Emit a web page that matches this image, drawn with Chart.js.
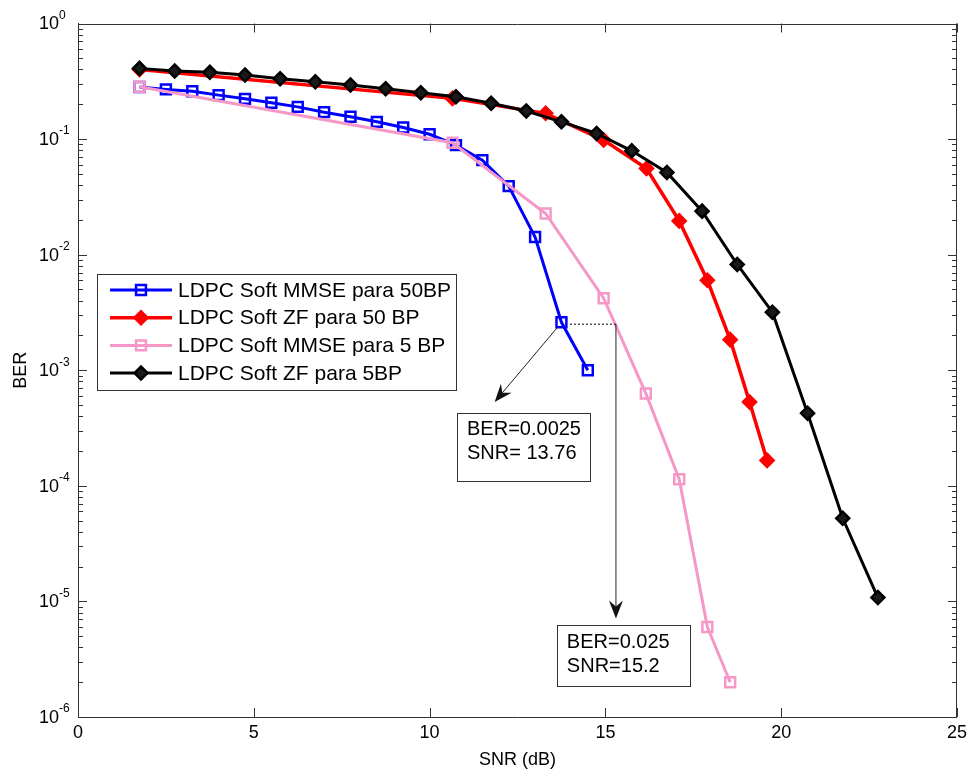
<!DOCTYPE html>
<html>
<head>
<meta charset="utf-8">
<script src="https://cdn.jsdelivr.net/npm/chart.js@4.4.0/dist/chart.umd.min.js"></script>
<style>
    html, body { margin: 0; padding: 0; background: #fff; }
    #wrap { width: 972px; height: 774px; }
</style>
</head>
<body>
<div id="wrap"><canvas id="ber-chart" width="972" height="774"></canvas></div>
<script>
// series: SNR (dB) and BER
const snrMmse50 = [1.75, 2.5, 3.25, 4, 4.75, 5.5, 6.25, 7, 7.75, 8.5, 9.25, 10, 10.75, 11.5, 12.25, 13, 13.75, 14.5];
const berMmse50 = [0.282, 0.269, 0.259, 0.240, 0.223, 0.206, 0.190, 0.171, 0.156, 0.141, 0.126, 0.110, 0.0887, 0.0658, 0.0392, 0.0142, 0.0026, 0.001];

const snrZf50 = [1.75, 10.65, 13.3, 14.95, 16.17, 17.1, 17.9, 18.55, 19.1, 19.6];
const berZf50 = [0.40, 0.225, 0.167, 0.098, 0.0557, 0.0196, 0.0060, 0.00184, 0.000532, 0.000166];

const snrMmse5 = [1.75, 10.65, 13.3, 14.95, 16.15, 17.1, 17.9, 18.55];
const berMmse5 = [0.284, 0.093, 0.0227, 0.0042, 0.00063, 0.000114, 0.0000060, 0.0000020];

const snrZf5 = [1.75, 2.75, 3.75, 4.75, 5.75, 6.75, 7.75, 8.75, 9.75, 10.75, 11.75, 12.75, 13.75, 14.75, 15.75, 16.75, 17.75, 18.75, 19.75, 20.75, 21.75, 22.75];
const berZf5 = [0.409, 0.388, 0.378, 0.358, 0.333, 0.313, 0.294, 0.273, 0.252, 0.232, 0.204, 0.175, 0.141, 0.112, 0.0792, 0.0515, 0.0238, 0.00822, 0.00318, 0.000425, 0.0000524, 0.0000108];

const seriesNames = ['LDPC Soft MMSE para 50BP', 'LDPC Soft ZF para 50 BP', 'LDPC Soft MMSE para 5 BP', 'LDPC Soft ZF para 5BP'];
const berDecades = [1e-6, 1e-5, 1e-4, 1e-3, 1e-2, 1e-1, 1];

// annotations (data coordinates)
const noteTexts = [['BER=0.0025', 'SNR= 13.76'], ['BER=0.025', 'SNR=15.2']];
const noteLeftSNR = [10.78, 13.62];
const noteRightSNR = [14.57, 17.41];
const noteTopBER = [4.27e-4, 6.19e-6];
const noteBottomBER = [1.10e-4, 1.85e-6];
const arrowFrom = [[13.76, 0.0026], [15.3, 0.0025]];
const arrowTo = [[11.85, 5.32e-4], [15.3, 7.13e-6]];
const guideFrom = [14.0, 0.0025];
const guideTo = [15.3, 0.0025];

const FONT = '"Liberation Sans", Arial, sans-serif';
const AXIS = '#333333';

function points(xs, ys) {
    return xs.map((x, i) => ({ x, y: ys[i] }));
}

const boxTicks = {
    id: 'boxTicks',
    afterDatasetsDraw(chart) {
        const { ctx, chartArea: a, scales: { x, y } } = chart;
        ctx.save();
        ctx.strokeStyle = AXIS;
        ctx.lineWidth = 1;
        ctx.beginPath();
        ctx.moveTo(a.left, Math.round(a.top) + 0.5);
        ctx.lineTo(a.right, Math.round(a.top) + 0.5);
        ctx.moveTo(Math.round(a.right) - 0.5, a.top);
        ctx.lineTo(Math.round(a.right) - 0.5, a.bottom);
        x.ticks.forEach(t => {
            const px = Math.round(x.getPixelForValue(t.value)) + 0.5;
            ctx.moveTo(px, a.bottom);
            ctx.lineTo(px, a.bottom - 9);
            ctx.moveTo(px, a.top);
            ctx.lineTo(px, a.top + 9);
        });
        berDecades.forEach(d => {
            for (let m = 1; m <= 9; m++) {
                const v = d * m;
                if (v > 1) break;
                const py = Math.round(y.getPixelForValue(v)) + 0.5;
                const len = m === 1 ? 9 : 5;
                ctx.moveTo(a.left, py);
                ctx.lineTo(a.left + len, py);
                ctx.moveTo(a.right, py);
                ctx.lineTo(a.right - len, py);
            }
        });
        ctx.stroke();
        ctx.restore();
    }
};

const logLabels = {
    id: 'logLabels',
    afterDraw(chart) {
        const { ctx, scales: { y } } = chart;
        ctx.save();
        ctx.fillStyle = '#000';
        ctx.textBaseline = 'middle';
        ctx.textAlign = 'left';
        berDecades.forEach(v => {
            const py = y.getPixelForValue(v);
            ctx.font = '18px ' + FONT;
            ctx.fillText('10', 39, py + 1);
            const w = ctx.measureText('10').width;
            ctx.font = '12px ' + FONT;
            ctx.fillText(String(Math.round(Math.log10(v))), 39 + w, py - 8);
        });
        ctx.restore();
    }
};

function drawArrow(ctx, x0, y0, x1, y1) {
    const ang = Math.atan2(y1 - y0, x1 - x0);
    const c = Math.cos(ang), s = Math.sin(ang);
    const len = 18, half = 7, back = 12;
    ctx.beginPath();
    ctx.moveTo(x0, y0);
    ctx.lineTo(x1 - c * back, y1 - s * back);
    ctx.stroke();
    ctx.beginPath();
    ctx.moveTo(x1, y1);
    ctx.lineTo(x1 - len * c + half * s, y1 - len * s - half * c);
    ctx.lineTo(x1 - back * c, y1 - back * s);
    ctx.lineTo(x1 - len * c - half * s, y1 - len * s + half * c);
    ctx.closePath();
    ctx.fill();
}

const notes = {
    id: 'notes',
    afterDraw(chart) {
        const { ctx, scales: { x, y } } = chart;
        ctx.save();
        ctx.strokeStyle = '#222';
        ctx.fillStyle = '#111';

        // dotted guide from the blue point to the vertical line
        ctx.setLineDash([1.5, 2.5]);
        ctx.lineWidth = 1.5;
        ctx.beginPath();
        ctx.moveTo(x.getPixelForValue(guideFrom[0]), y.getPixelForValue(guideFrom[1]));
        ctx.lineTo(x.getPixelForValue(guideTo[0]), y.getPixelForValue(guideTo[1]));
        ctx.stroke();
        ctx.setLineDash([]);
        ctx.lineWidth = 1;

        arrowFrom.forEach((p, i) => {
            let x0 = x.getPixelForValue(p[0]), y0 = y.getPixelForValue(p[1]);
            const x1 = x.getPixelForValue(arrowTo[i][0]), y1 = y.getPixelForValue(arrowTo[i][1]);
            if (i === 0) {
                const ang = Math.atan2(y1 - y0, x1 - x0);
                x0 += Math.cos(ang) * 6;
                y0 += Math.sin(ang) * 6;
            }
            drawArrow(ctx, x0, y0, x1, y1);
        });

        noteTexts.forEach((lines, i) => {
            const l = x.getPixelForValue(noteLeftSNR[i]);
            const r = x.getPixelForValue(noteRightSNR[i]);
            const t = y.getPixelForValue(noteTopBER[i]);
            const b = y.getPixelForValue(noteBottomBER[i]);
            ctx.fillStyle = '#fff';
            ctx.fillRect(l, t, r - l, b - t);
            ctx.strokeStyle = '#333';
            ctx.strokeRect(Math.round(l) + 0.5, Math.round(t) + 0.5, Math.round(r - l), Math.round(b - t));
            ctx.fillStyle = '#000';
            ctx.font = '20px ' + FONT;
            ctx.textBaseline = 'middle';
            ctx.textAlign = 'left';
            lines.forEach((txt, k) => {
                ctx.fillText(txt, l + 10, t + 17 + k * 23.5);
            });
        });
        ctx.restore();
    }
};

const boxLegend = {
    id: 'boxLegend',
    afterDraw(chart) {
        const { ctx } = chart;
        const left = 97, top = 274, width = 359, height = 116;
        ctx.save();
        ctx.fillStyle = '#fff';
        ctx.fillRect(left, top, width, height);
        ctx.strokeStyle = '#333';
        ctx.lineWidth = 1;
        ctx.strokeRect(left + 0.5, top + 0.5, width, height);
        chart.data.datasets.forEach((ds, i) => {
            const cy = top + 16 + i * 27.7;
            ctx.strokeStyle = ds.borderColor;
            ctx.lineWidth = ds.borderWidth;
            ctx.beginPath();
            ctx.moveTo(110, cy);
            ctx.lineTo(172, cy);
            ctx.stroke();
            ctx.lineWidth = ds.pointBorderWidth;
            ctx.fillStyle = ds.pointBackgroundColor;
            Chart.helpers.drawPoint(ctx, { pointStyle: ds.pointStyle, radius: ds.pointRadius, rotation: 0, borderWidth: ds.pointBorderWidth }, 141, cy);
            ctx.fillStyle = '#000';
            ctx.font = '21px ' + FONT;
            ctx.textBaseline = 'middle';
            ctx.textAlign = 'left';
            ctx.fillText(ds.label, 178, cy + 1);
        });
        ctx.restore();
    }
};

const ctx = document.getElementById('ber-chart').getContext('2d');
new Chart(ctx, {
    type: 'line',
    data: {
        datasets: [
            {
                label: seriesNames[0],
                data: points(snrMmse50, berMmse50),
                borderColor: '#0000ff',
                borderWidth: 3,
                pointStyle: 'rect',
                pointRadius: 7,
                pointBorderWidth: 2.5,
                pointBackgroundColor: 'rgba(255,255,255,0)',
                pointBorderColor: '#0000ff',
                order: 4
            },
            {
                label: seriesNames[1],
                data: points(snrZf50, berZf50),
                borderColor: '#ff0000',
                borderWidth: 3.5,
                pointStyle: 'rectRot',
                pointRadius: 6.5,
                pointBorderWidth: 2.5,
                pointBackgroundColor: '#ff0000',
                pointBorderColor: '#ff0000',
                order: 3
            },
            {
                label: seriesNames[2],
                data: points(snrMmse5, berMmse5),
                borderColor: '#f598c8',
                borderWidth: 3,
                pointStyle: 'rect',
                pointRadius: 7,
                pointBorderWidth: 2.5,
                pointBackgroundColor: 'rgba(255,255,255,0)',
                pointBorderColor: '#f598c8',
                order: 2
            },
            {
                label: seriesNames[3],
                data: points(snrZf5, berZf5),
                borderColor: '#000000',
                borderWidth: 3,
                pointStyle: 'rectRot',
                pointRadius: 6.5,
                pointBorderWidth: 2.5,
                pointBackgroundColor: '#1a1a1a',
                pointBorderColor: '#000000',
                order: 1
            }
        ]
    },
    options: {
        responsive: false,
        animation: false,
        devicePixelRatio: 1,
        layout: { padding: { top: 23.5, right: 14, left: 0, bottom: 0 } },
        elements: { line: { tension: 0, fill: false } },
        plugins: {
            legend: { display: false },
            tooltip: { enabled: false }
        },
        scales: {
            x: {
                type: 'linear',
                min: 0,
                max: 25,
                ticks: { stepSize: 5, color: '#000', font: { family: FONT, size: 18 }, padding: 5, maxRotation: 0 },
                grid: { display: false, drawTicks: false },
                border: { display: true, color: AXIS, width: 1 },
                title: { display: true, text: 'SNR (dB)', color: '#000', font: { family: FONT, size: 18 }, padding: { top: 0, bottom: 3 } },
                afterFit: scale => { scale.height = 57; }
            },
            y: {
                type: 'logarithmic',
                min: 1e-6,
                max: 1,
                afterBuildTicks: scale => { scale.ticks = berDecades.map(v => ({ value: v })); },
                ticks: { display: false },
                grid: { display: false, drawTicks: false },
                border: { display: true, color: AXIS, width: 1 },
                title: { display: true, text: 'BER', color: '#000', font: { family: FONT, size: 18 }, padding: { top: 10, bottom: 0 } },
                afterFit: scale => { scale.width = 78; }
            }
        }
    },
    plugins: [boxTicks, logLabels, notes, boxLegend]
});
</script>
</body>
</html>
